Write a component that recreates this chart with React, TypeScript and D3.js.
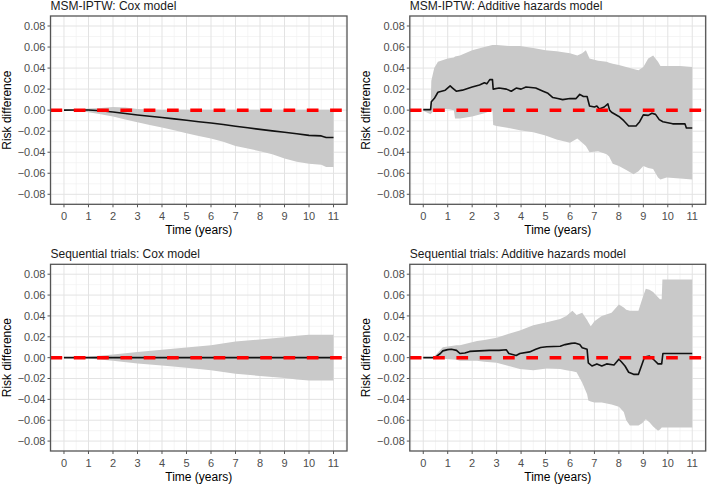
import React from "react";
import * as d3 from "d3";

// ---------- tick labels ----------
const xTicks = [0, 1, 2, 3, 4, 5, 6, 7, 8, 9, 10, 11];
const xMinor = [-0.5, 0.5, 1.5, 2.5, 3.5, 4.5, 5.5, 6.5, 7.5, 8.5, 9.5, 10.5, 11.5];
const yTicks = [-0.08, -0.06, -0.04, -0.02, 0, 0.02, 0.04, 0.06, 0.08];
const yMinor = [-0.07, -0.05, -0.03, -0.01, 0.01, 0.03, 0.05, 0.07];
const titles = [
  "MSM-IPTW: Cox model",
  "MSM-IPTW: Additive hazards model",
  "Sequential trials: Cox model",
  "Sequential trials: Additive hazards model",
];

// ---------- Panel 1: MSM-IPTW Cox ----------
const lineT1 = [0, 0.5, 1, 1.5, 2, 2.5, 3, 3.5, 4, 4.5, 5, 5.5, 6, 6.5, 7, 7.5, 8, 8.5, 9, 9.5, 10, 10.5, 10.7, 11];
const est1 = [0, 0.0002, 0.0001, -0.0005, -0.0018, -0.0032, -0.0046, -0.0058, -0.007, -0.0083, -0.0096, -0.011, -0.0122, -0.0137, -0.0153, -0.0168, -0.0183, -0.0197, -0.021, -0.0225, -0.024, -0.0245, -0.026, -0.026];
const bandT1 = [0.3, 1, 1.5, 2, 2.5, 3, 3.5, 4, 4.5, 5, 5.5, 6, 6.5, 7, 7.5, 8, 8.5, 9, 9.5, 10, 10.5, 10.7, 11];
const lo1 = [0, -0.002, -0.004, -0.006, -0.009, -0.0115, -0.014, -0.0165, -0.019, -0.022, -0.0245, -0.027, -0.03, -0.034, -0.0365, -0.039, -0.042, -0.046, -0.049, -0.051, -0.052, -0.054, -0.054];
const hi1 = [0, 0.0015, 0.002, 0.003, 0.0025, 0.001, 0.0005, 0.0003, 0.0003, 0.0003, 0.0003, 0.0003, 0.0003, 0.0003, 0.0003, 0.0003, 0.0003, 0.0003, 0.0003, 0.0003, 0.0003, 0.0003, 0.0003];

// ---------- Panel 2: MSM-IPTW Additive ----------
const lineT2 = [0, 0.3, 0.33, 0.45, 0.6, 0.9, 1.1, 1.2, 1.35, 1.6, 2.0, 2.3, 2.5, 2.6, 2.72, 2.83, 2.86, 3.1, 3.4, 3.6, 3.8, 4.0, 4.2, 4.6, 4.9, 5.1, 5.3, 5.5, 5.7, 6.0, 6.25, 6.4, 6.55, 6.7, 6.8, 7.0, 7.1, 7.2, 7.4, 7.55, 7.62, 7.7, 8.0, 8.2, 8.4, 8.7, 8.85, 9.0, 9.2, 9.35, 9.5, 9.65, 9.8, 10.0, 10.2, 10.7, 10.76, 11];
const est2 = [0.0005, 0.0005, 0.008, 0.011, 0.017, 0.019, 0.023, 0.021, 0.018, 0.019, 0.022, 0.024, 0.026, 0.025, 0.029, 0.029, 0.02, 0.021, 0.02, 0.018, 0.021, 0.02, 0.022, 0.021, 0.018, 0.016, 0.012, 0.011, 0.01, 0.011, 0.011, 0.015, 0.013, 0.013, 0.004, 0.003, 0.004, 0.001, 0.003, 0.006, 0.0, -0.002, -0.006, -0.01, -0.015, -0.015, -0.011, -0.0045, -0.005, -0.003, -0.004, -0.009, -0.011, -0.012, -0.013, -0.013, -0.017, -0.017];
const bandT2 = [0, 0.3, 0.33, 0.45, 0.6, 1.0, 1.25, 1.3, 1.5, 2.0, 2.5, 2.83, 2.86, 3.0, 3.5, 3.95, 4.5, 5.0, 5.45, 6.0, 6.3, 6.5, 6.65, 6.8, 7.15, 7.5, 7.6, 7.75, 8.0, 8.3, 8.6, 8.8, 9.0, 9.2, 9.4, 9.6, 9.7, 9.95, 10.5, 11];
const hi2 = [0.0005, 0.001, 0.028, 0.04, 0.046, 0.049, 0.05, 0.051, 0.052, 0.057, 0.06, 0.062, 0.062, 0.062, 0.061, 0.061, 0.059, 0.057, 0.056, 0.054, 0.052, 0.054, 0.057, 0.049, 0.047, 0.046, 0.045, 0.044, 0.043, 0.041, 0.039, 0.038, 0.041, 0.049, 0.052, 0.046, 0.042, 0.042, 0.042, 0.041];
const lo2 = [-0.0005, -0.004, -0.003, 0, 0.001, 0.001, 0, -0.008, -0.008, -0.006, -0.003, 0, -0.014, -0.015, -0.017, -0.019, -0.021, -0.024, -0.028, -0.031, -0.027, -0.031, -0.034, -0.04, -0.039, -0.042, -0.044, -0.051, -0.053, -0.057, -0.061, -0.058, -0.053, -0.055, -0.056, -0.064, -0.066, -0.064, -0.065, -0.066];

// ---------- Panel 3: Sequential trials Cox ----------
const lineT3 = [0, 11];
const est3 = [0, 0];
const bandT3 = [0.5, 1, 2, 3, 4, 5, 6, 7, 8, 9, 9.5, 10, 11];
const hi3 = [0, 0.0008, 0.003, 0.0055, 0.0075, 0.0098, 0.012, 0.0155, 0.0175, 0.0195, 0.021, 0.022, 0.022];
const lo3 = [0, -0.0008, -0.003, -0.0055, -0.0075, -0.0098, -0.012, -0.0155, -0.0175, -0.0195, -0.021, -0.022, -0.022];

// ---------- Panel 4: Sequential trials Additive ----------
const lineT4 = [0, 0.45, 0.55, 0.7, 0.8, 1.0, 1.15, 1.36, 1.5, 1.7, 1.9, 2.3, 2.7, 3.1, 3.4, 3.5, 3.65, 3.8, 3.95, 4.35, 4.6, 4.8, 5.05, 5.6, 5.8, 6.05, 6.2, 6.4, 6.5, 6.7, 6.75, 6.9, 7.1, 7.3, 7.5, 7.8, 8.0, 8.1, 8.25, 8.4, 8.6, 8.8, 8.95, 9.05, 9.25, 9.45, 9.6, 9.75, 9.8, 11];
const est4 = [0, 0, 0.0015, 0.004, 0.0065, 0.0077, 0.008, 0.007, 0.004, 0.0045, 0.006, 0.0065, 0.007, 0.007, 0.0075, 0.004, 0.003, 0.002, 0.004, 0.0055, 0.008, 0.0097, 0.0105, 0.011, 0.0125, 0.0137, 0.014, 0.0125, 0.0095, 0.008, -0.005, -0.008, -0.006, -0.008, -0.006, -0.007, -0.0015, -0.004, -0.008, -0.014, -0.016, -0.016, -0.006, 0.0006, 0.0016, -0.0025, -0.006, -0.006, 0.004, 0.004];
const bandT4 = [0, 0.4, 0.8, 1.36, 1.5, 2.2, 2.5, 3.0, 3.5, 3.95, 4.5, 5.05, 5.6, 5.85, 6.1, 6.27, 6.5, 6.7, 6.75, 6.85, 7.0, 7.3, 7.7, 8.0, 8.2, 8.3, 8.45, 8.8, 8.95, 9.1, 9.25, 9.4, 9.6, 9.68, 9.75, 9.78, 11];
const hi4 = [0, 0, 0.01, 0.012, 0.012, 0.016, 0.017, 0.019, 0.023, 0.026, 0.031, 0.034, 0.037, 0.04, 0.045, 0.041, 0.043, 0.036, 0.034, 0.03, 0.035, 0.04, 0.043, 0.051, 0.048, 0.046, 0.045, 0.045, 0.056, 0.066, 0.065, 0.063, 0.058, 0.056, 0.056, 0.075, 0.075];
const lo4 = [0, 0, -0.001, -0.002, -0.003, -0.003, -0.004, -0.005, -0.008, -0.011, -0.012, -0.0105, -0.011, -0.012, -0.013, -0.014, -0.024, -0.035, -0.041, -0.042, -0.043, -0.043, -0.045, -0.047, -0.052, -0.06, -0.065, -0.065, -0.063, -0.059, -0.062, -0.066, -0.07, -0.069, -0.067, -0.067, -0.067];

const FONT = "'Liberation Sans', Arial, Helvetica, sans-serif";
const fmtY = d3.format(".2f");

type PanelProps = {
  title: string;
  x0: number; x1: number; y0: number; y1: number;
  lineT: number[]; est: number[];
  bandT: number[]; lo: number[]; hi: number[];
};

function Panel(p: PanelProps) {
  const x = d3.scaleLinear().domain([-0.55, 11.55]).range([p.x0, p.x1]);
  const y = d3.scaleLinear().domain([-0.0895, 0.0895]).range([p.y1, p.y0]);
  const band = p.bandT.map((t, i) => ({ t, lo: p.lo[i], hi: p.hi[i] }));
  const line = p.lineT.map((t, i) => ({ t, v: p.est[i] }));
  const areaPath = d3.area<{ t: number; lo: number; hi: number }>()
    .x((d) => x(d.t)).y0((d) => y(d.lo)).y1((d) => y(d.hi))(band) || "";
  const linePath = d3.line<{ t: number; v: number }>()
    .x((d) => x(d.t)).y((d) => y(d.v))(line) || "";
  const gridMinor = "#F0F0F0";
  const gridMajor = "#E3E3E3";
  return (
    <g>
      <text x={p.x0} y={p.y0 - 6} fontSize={12} fill="#1A1A1A" fontFamily={FONT}>{p.title}</text>
      <rect x={p.x0} y={p.y0} width={p.x1 - p.x0} height={p.y1 - p.y0} fill="#fff" />
      {xMinor.map((v) => (
        <line key={"xm" + v} x1={x(v)} x2={x(v)} y1={p.y0} y2={p.y1} stroke={gridMinor} strokeWidth={0.7} />
      ))}
      {yMinor.map((v) => (
        <line key={"ym" + v} x1={p.x0} x2={p.x1} y1={y(v)} y2={y(v)} stroke={gridMinor} strokeWidth={0.7} />
      ))}
      {xTicks.map((v) => (
        <line key={"xg" + v} x1={x(v)} x2={x(v)} y1={p.y0} y2={p.y1} stroke={gridMajor} strokeWidth={1} />
      ))}
      {yTicks.map((v) => (
        <line key={"yg" + v} x1={p.x0} x2={p.x1} y1={y(v)} y2={y(v)} stroke={gridMajor} strokeWidth={1} />
      ))}
      <path d={areaPath} fill="#C9C9C9" stroke="none" />
      <path d={linePath} fill="none" stroke="#111" strokeWidth={1.6} strokeLinejoin="round" />
      <line x1={p.x0} x2={p.x1} y1={y(0)} y2={y(0)} stroke="#FF0000" strokeWidth={3.5} strokeDasharray="11.7 11.6" />
      <rect x={p.x0} y={p.y0} width={p.x1 - p.x0} height={p.y1 - p.y0} fill="none" stroke="#555" strokeWidth={1.3} />
      {yTicks.map((v) => (
        <g key={"yt" + v}>
          <line x1={p.x0 - 3} x2={p.x0} y1={y(v)} y2={y(v)} stroke="#555" strokeWidth={1} />
          <text x={p.x0 - 5} y={y(v)} dy="0.35em" textAnchor="end" fontSize={11} fill="#4D4D4D" fontFamily={FONT}>{fmtY(v)}</text>
        </g>
      ))}
      {xTicks.map((v) => (
        <g key={"xt" + v}>
          <line x1={x(v)} x2={x(v)} y1={p.y1} y2={p.y1 + 3} stroke="#555" strokeWidth={1} />
          <text x={x(v)} y={p.y1 + 16} textAnchor="middle" fontSize={11} fill="#4D4D4D" fontFamily={FONT}>{v}</text>
        </g>
      ))}
      <text x={(p.x0 + p.x1) / 2} y={p.y1 + 29.5} textAnchor="middle" fontSize={12} fill="#000" fontFamily={FONT}>Time (years)</text>
      <text transform={`translate(${p.x0 - 39.5},${(p.y0 + p.y1) / 2}) rotate(-90)`} textAnchor="middle" fontSize={12} fill="#000" fontFamily={FONT}>Risk difference</text>
    </g>
  );
}

export default function App() {
  const L = { x0: 50.5, x1: 347 };
  const R = { x0: 409.8, x1: 705.7 };
  const T = { y0: 16, y1: 204.3 };
  const B = { y0: 264.3, y1: 451 };
  return (
    <svg width={709} height={485} style={{ position: "absolute", left: 0, top: 0, background: "#fff" }}>
      <rect x={0} y={0} width={709} height={485} fill="#fff" />
      <Panel title={titles[0]} {...L} {...T} lineT={lineT1} est={est1} bandT={bandT1} lo={lo1} hi={hi1} />
      <Panel title={titles[1]} {...R} {...T} lineT={lineT2} est={est2} bandT={bandT2} lo={lo2} hi={hi2} />
      <Panel title={titles[2]} {...L} {...B} lineT={lineT3} est={est3} bandT={bandT3} lo={lo3} hi={hi3} />
      <Panel title={titles[3]} {...R} {...B} lineT={lineT4} est={est4} bandT={bandT4} lo={lo4} hi={hi4} />
    </svg>
  );
}
